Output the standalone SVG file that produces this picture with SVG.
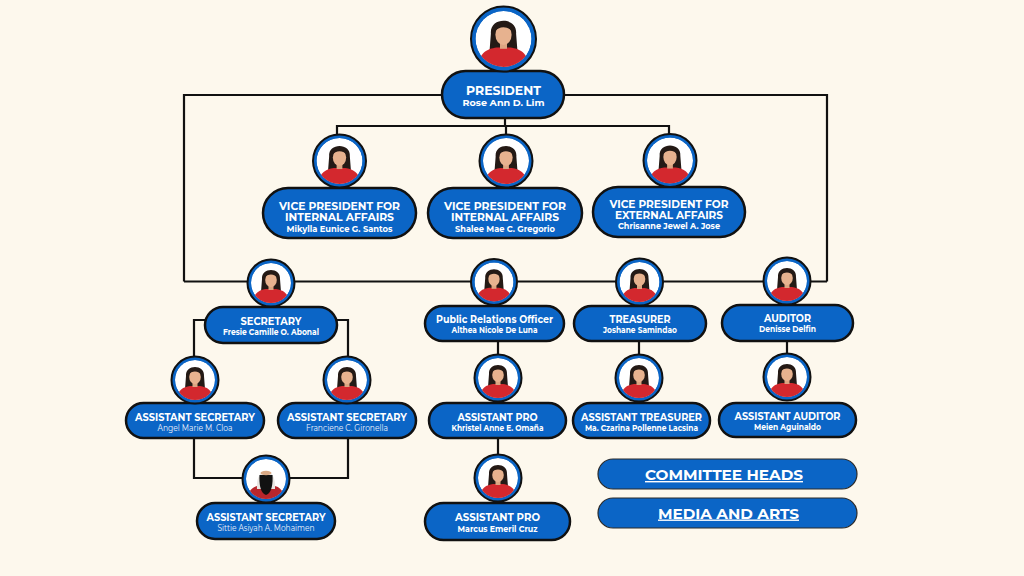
<svg xmlns="http://www.w3.org/2000/svg" xmlns:xlink="http://www.w3.org/1999/xlink" width="1024" height="576" viewBox="0 0 1024 576">
<style>
.pill{fill:#0b65c6;stroke:#111;stroke-width:2.5}
.ring{fill:#0b65c6;stroke:#111;stroke-width:2}
.ln{fill:none;stroke:#111;stroke-width:2.2}
.t{font-family:"Montserrat","Noto Sans","Liberation Sans",sans-serif;font-weight:700;fill:#fff;text-anchor:middle}
.h{font-size:11px}
.n{font-size:8.5px}
.r{font-weight:400;fill:#eef3fb}
.btn{fill:#0b65c6;stroke:#2a2a2a;stroke-width:1.2}
.bt{font-family:"Montserrat","Noto Sans","Liberation Sans",sans-serif;font-weight:700;fill:#fff;text-anchor:middle;font-size:14px;text-decoration:underline}
</style>
<defs>
<clipPath id="cp"><circle r="20"/></clipPath>
<symbol id="person" viewBox="-20 -20 40 40">
<g clip-path="url(#cp)">
<circle r="20" fill="#fff"/>
<path d="M-9,-4 C-10,-16 10,-16 9,-4 L10,9 L-10,9 Z" fill="#241a16"/>
<path d="M-19,22 C-18,10 -12,7 -5,6 L5,6 C12,7 18,10 19,22 Z" fill="#d3282e"/>
<rect x="-2.5" y="1" width="5" height="6" fill="#dca582"/>
<ellipse cx="0" cy="-3" rx="5.8" ry="7.2" fill="#e7b28f"/>
<path d="M-6.5,-5 C-6,-13 6,-13 6.5,-5 C4,-9 -3,-10 -6.5,-5 Z" fill="#241a16"/>
</g>
</symbol>
<symbol id="hijab" viewBox="-20 -20 40 40">
<g clip-path="url(#cp)">
<circle r="20" fill="#fff"/>
<path d="M-19,22 C-18,10 -12,7 -5,6 L5,6 C12,7 18,10 19,22 Z" fill="#b8262c"/>
<path d="M-9,10 C-11,-14 11,-14 9,10 Z" fill="#e9e6e3"/>
<path d="M-6.5,-4 L6.5,-4 C7,4 6,14 0,16 C-6,14 -7,4 -6.5,-4 Z" fill="#111"/>
<ellipse cx="0" cy="-6" rx="5.5" ry="2.2" fill="#d9a985"/>
</g>
</symbol>
</defs>
<rect width="1024" height="576" fill="#fdf8ed"/>

<g id="connectors">
<path class="ln" d="M184,281.5 V95 H827 V281.5"/>
<path class="ln" d="M184,281.5 H827"/>
<path class="ln" d="M505,118 V126"/>
<path class="ln" d="M337,137 V126 H669 V137"/>
<path class="ln" d="M506,126 V137"/>
<path class="ln" d="M205,320 H194 V360"/>
<path class="ln" d="M337,320 H348 V360"/>
<path class="ln" d="M194,438 V478 H246"/>
<path class="ln" d="M348,438 V478 H290"/>
<path class="ln" d="M498,341 V356"/>
<path class="ln" d="M498,438 V456"/>
<path class="ln" d="M639,341 V356"/>
<path class="ln" d="M787,341 V355"/>
</g>

<g id="president">
<rect class="pill" x="442" y="71" width="122" height="47" rx="23.5"/>
<circle class="ring" cx="503.5" cy="39" r="32.5"/>
<use href="#person" x="475.5" y="11" width="56" height="56"/>
<text class="t" x="503.5" y="94.5" font-size="13" textLength="75" lengthAdjust="spacingAndGlyphs">PRESIDENT</text>
<text class="t" x="503.5" y="106" font-size="9.5" textLength="82" lengthAdjust="spacingAndGlyphs">Rose Ann D. Lim</text>
</g>

<g id="vp1">
<rect class="pill" x="263" y="188" width="153" height="50" rx="25"/>
<circle class="ring" cx="339.5" cy="161" r="26.5"/>
<use href="#person" x="316.5" y="138" width="46" height="46"/>
<text class="t h" x="339.5" y="209.5" textLength="121" lengthAdjust="spacingAndGlyphs">VICE PRESIDENT FOR</text>
<text class="t h" x="339.5" y="220.5" textLength="109" lengthAdjust="spacingAndGlyphs">INTERNAL AFFAIRS</text>
<text class="t n" x="339.5" y="231.5" textLength="106" lengthAdjust="spacingAndGlyphs">Mikylla Eunice G. Santos</text>
</g>

<g id="vp2">
<rect class="pill" x="428" y="188" width="154" height="50" rx="25"/>
<circle class="ring" cx="506" cy="161" r="26.5"/>
<use href="#person" x="483" y="138" width="46" height="46"/>
<text class="t h" x="505" y="209.5" textLength="122" lengthAdjust="spacingAndGlyphs">VICE PRESIDENT FOR</text>
<text class="t h" x="505" y="220.5" textLength="108" lengthAdjust="spacingAndGlyphs">INTERNAL AFFAIRS</text>
<text class="t n" x="505" y="231.5" textLength="100" lengthAdjust="spacingAndGlyphs">Shalee Mae C. Gregorio</text>
</g>

<g id="vp3">
<rect class="pill" x="593" y="187" width="152" height="50" rx="25"/>
<circle class="ring" cx="670" cy="160.5" r="26.5"/>
<use href="#person" x="647" y="137.5" width="46" height="46"/>
<text class="t h" x="669" y="207.5" textLength="119" lengthAdjust="spacingAndGlyphs">VICE PRESIDENT FOR</text>
<text class="t h" x="669" y="218.5" textLength="108" lengthAdjust="spacingAndGlyphs">EXTERNAL AFFAIRS</text>
<text class="t n" x="669" y="229" textLength="102" lengthAdjust="spacingAndGlyphs">Chrisanne Jewel A. Jose</text>
</g>

<g id="secretary">
<rect class="pill" x="205" y="307" width="132" height="36" rx="18"/>
<circle class="ring" cx="271" cy="283" r="23.5"/>
<use href="#person" x="251" y="263" width="40" height="40"/>
<text class="t h" x="271" y="324.5" textLength="61" lengthAdjust="spacingAndGlyphs">SECRETARY</text>
<text class="t n" x="271" y="334.5" textLength="96" lengthAdjust="spacingAndGlyphs">Fresie Camille O. Abonal</text>
</g>

<g id="asst-sec-1">
<rect class="pill" x="126" y="403" width="138" height="35" rx="17.5"/>
<circle class="ring" cx="195" cy="380" r="23.5"/>
<use href="#person" x="175" y="360" width="40" height="40"/>
<text class="t h" x="195" y="420.5" textLength="120" lengthAdjust="spacingAndGlyphs">ASSISTANT SECRETARY</text>
<text class="t n r" x="195" y="430.5" textLength="75" lengthAdjust="spacingAndGlyphs">Angel Marie M. Cloa</text>
</g>

<g id="asst-sec-2">
<rect class="pill" x="278" y="403" width="138" height="35" rx="17.5"/>
<circle class="ring" cx="347" cy="380" r="23.5"/>
<use href="#person" x="327" y="360" width="40" height="40"/>
<text class="t h" x="347" y="420.5" textLength="120" lengthAdjust="spacingAndGlyphs">ASSISTANT SECRETARY</text>
<text class="t n r" x="347" y="430.5" textLength="82" lengthAdjust="spacingAndGlyphs">Franciene C. Gironella</text>
</g>

<g id="asst-sec-3">
<rect class="pill" x="197" y="503" width="138" height="36" rx="18"/>
<circle class="ring" cx="266" cy="479" r="23.5"/>
<use href="#hijab" x="246" y="459" width="40" height="40"/>
<text class="t h" x="266" y="521" textLength="119" lengthAdjust="spacingAndGlyphs">ASSISTANT SECRETARY</text>
<text class="t n r" x="266" y="531" textLength="97" lengthAdjust="spacingAndGlyphs">Sittie Asiyah A. Mohaimen</text>
</g>

<g id="pro">
<rect class="pill" x="425" y="306" width="139" height="35" rx="17.5"/>
<circle class="ring" cx="494" cy="282" r="23"/>
<use href="#person" x="474.5" y="262.5" width="39" height="39"/>
<text class="t h" x="494.5" y="323" textLength="117" lengthAdjust="spacingAndGlyphs">Public Relations Officer</text>
<text class="t n" x="494.5" y="333" textLength="86" lengthAdjust="spacingAndGlyphs">Althea Nicole De Luna</text>
</g>

<g id="asst-pro-1">
<rect class="pill" x="429" y="403" width="137" height="35" rx="17.5"/>
<circle class="ring" cx="498" cy="378" r="23.5"/>
<use href="#person" x="478" y="358" width="40" height="40"/>
<text class="t h" x="497.5" y="420.5" textLength="80" lengthAdjust="spacingAndGlyphs">ASSISTANT PRO</text>
<text class="t n" x="497.5" y="430.5" textLength="92" lengthAdjust="spacingAndGlyphs">Khristel Anne E. Omaña</text>
</g>

<g id="asst-pro-2">
<rect class="pill" x="425" y="503" width="145" height="37" rx="18.5"/>
<circle class="ring" cx="498" cy="478" r="23.5"/>
<use href="#person" x="478" y="458" width="40" height="40"/>
<text class="t h" x="497.5" y="521" textLength="85" lengthAdjust="spacingAndGlyphs">ASSISTANT PRO</text>
<text class="t n" x="497.5" y="531.5" textLength="80" lengthAdjust="spacingAndGlyphs">Marcus Emeril Cruz</text>
</g>

<g id="treasurer">
<rect class="pill" x="574" y="306" width="132" height="35" rx="17.5"/>
<circle class="ring" cx="639.5" cy="282" r="23.5"/>
<use href="#person" x="619.5" y="262" width="40" height="40"/>
<text class="t h" x="640" y="323" textLength="61" lengthAdjust="spacingAndGlyphs">TREASURER</text>
<text class="t n" x="640" y="333" textLength="74" lengthAdjust="spacingAndGlyphs">Joshane Samindao</text>
</g>

<g id="asst-treasurer">
<rect class="pill" x="573" y="403" width="137" height="35" rx="17.5"/>
<circle class="ring" cx="639" cy="378" r="23.5"/>
<use href="#person" x="619" y="358" width="40" height="40"/>
<text class="t h" x="641.5" y="420.5" textLength="121" lengthAdjust="spacingAndGlyphs">ASSISTANT TREASURER</text>
<text class="t n" x="641.5" y="430.5" textLength="113" lengthAdjust="spacingAndGlyphs">Ma. Czarina Pollenne Lacsina</text>
</g>

<g id="auditor">
<rect class="pill" x="722" y="305" width="131" height="36" rx="18"/>
<circle class="ring" cx="787" cy="281" r="23.5"/>
<use href="#person" x="767" y="261" width="40" height="40"/>
<text class="t h" x="787.5" y="322" textLength="47" lengthAdjust="spacingAndGlyphs">AUDITOR</text>
<text class="t n" x="787.5" y="332" textLength="57" lengthAdjust="spacingAndGlyphs">Denisse Delfin</text>
</g>

<g id="asst-auditor">
<rect class="pill" x="719" y="403" width="137" height="34" rx="17"/>
<circle class="ring" cx="787" cy="377" r="23.5"/>
<use href="#person" x="767" y="357" width="40" height="40"/>
<text class="t h" x="787.5" y="419.5" textLength="106" lengthAdjust="spacingAndGlyphs">ASSISTANT AUDITOR</text>
<text class="t n" x="787.5" y="430" textLength="67" lengthAdjust="spacingAndGlyphs">Meien Aguinaldo</text>
</g>

<g id="committee-heads">
<rect class="btn" x="598" y="459" width="259" height="30" rx="15"/>
<text class="bt" x="724" y="480" textLength="158" lengthAdjust="spacingAndGlyphs">COMMITTEE HEADS</text>
</g>

<g id="media-and-arts">
<rect class="btn" x="598" y="498" width="259" height="30" rx="15"/>
<text class="bt" x="728.5" y="518.5" textLength="141" lengthAdjust="spacingAndGlyphs">MEDIA AND ARTS</text>
</g>
</svg>
